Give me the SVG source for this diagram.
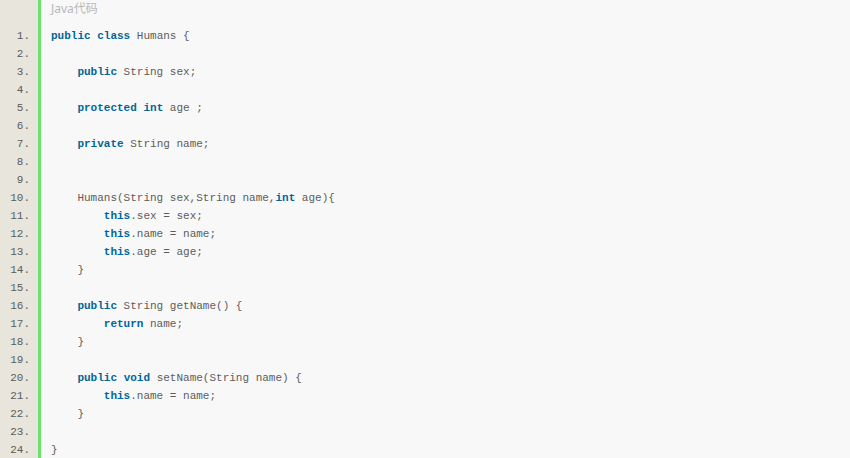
<svg xmlns="http://www.w3.org/2000/svg" width="850" height="458" viewBox="0 0 850 458">
<style>
.code{font-family:"Liberation Mono","DejaVu Sans Mono",monospace;font-size:11px;fill:#5c5c5c;white-space:pre}
.kw{fill:#006699;font-weight:bold}
.ln{font-family:"Liberation Mono","DejaVu Sans Mono",monospace;font-size:11px;fill:#5c5c5c;text-anchor:end}
.title{font-family:"Noto Sans","Noto Sans CJK SC",sans-serif;font-size:12px;fill:#b8b8b8}
</style>
<rect x="0" y="0" width="850" height="458" fill="#f8f8f8"/>
<rect x="0" y="0" width="38" height="458" fill="#e7e5dc"/>
<rect x="38" y="0" width="3" height="458" fill="#6ce26c"/>
<text class="title" x="51" y="13">Java代码</text>
<g id="line-numbers">
<text class="ln" x="30" y="39">1.</text>
<text class="ln" x="30" y="57">2.</text>
<text class="ln" x="30" y="75">3.</text>
<text class="ln" x="30" y="93">4.</text>
<text class="ln" x="30" y="111">5.</text>
<text class="ln" x="30" y="129">6.</text>
<text class="ln" x="30" y="147">7.</text>
<text class="ln" x="30" y="165">8.</text>
<text class="ln" x="30" y="183">9.</text>
<text class="ln" x="30" y="201">10.</text>
<text class="ln" x="30" y="219">11.</text>
<text class="ln" x="30" y="237">12.</text>
<text class="ln" x="30" y="255">13.</text>
<text class="ln" x="30" y="273">14.</text>
<text class="ln" x="30" y="291">15.</text>
<text class="ln" x="30" y="309">16.</text>
<text class="ln" x="30" y="327">17.</text>
<text class="ln" x="30" y="345">18.</text>
<text class="ln" x="30" y="363">19.</text>
<text class="ln" x="30" y="381">20.</text>
<text class="ln" x="30" y="399">21.</text>
<text class="ln" x="30" y="417">22.</text>
<text class="ln" x="30" y="435">23.</text>
<text class="ln" x="30" y="453">24.</text>
</g>
<g id="code" xml:space="preserve">
<text class="code" x="51" y="39"><tspan class="kw">public</tspan> <tspan class="kw">class</tspan> Humans {</text>
<text class="code" x="51" y="75">    <tspan class="kw">public</tspan> String sex;</text>
<text class="code" x="51" y="111">    <tspan class="kw">protected</tspan> <tspan class="kw">int</tspan> age ;</text>
<text class="code" x="51" y="147">    <tspan class="kw">private</tspan> String name;</text>
<text class="code" x="51" y="201">    Humans(String sex,String name,<tspan class="kw">int</tspan> age){</text>
<text class="code" x="51" y="219">        <tspan class="kw">this</tspan>.sex = sex;</text>
<text class="code" x="51" y="237">        <tspan class="kw">this</tspan>.name = name;</text>
<text class="code" x="51" y="255">        <tspan class="kw">this</tspan>.age = age;</text>
<text class="code" x="51" y="273">    }</text>
<text class="code" x="51" y="309">    <tspan class="kw">public</tspan> String getName() {</text>
<text class="code" x="51" y="327">        <tspan class="kw">return</tspan> name;</text>
<text class="code" x="51" y="345">    }</text>
<text class="code" x="51" y="381">    <tspan class="kw">public</tspan> <tspan class="kw">void</tspan> setName(String name) {</text>
<text class="code" x="51" y="399">        <tspan class="kw">this</tspan>.name = name;</text>
<text class="code" x="51" y="417">    }</text>
<text class="code" x="51" y="453">}</text>
</g>
</svg>
